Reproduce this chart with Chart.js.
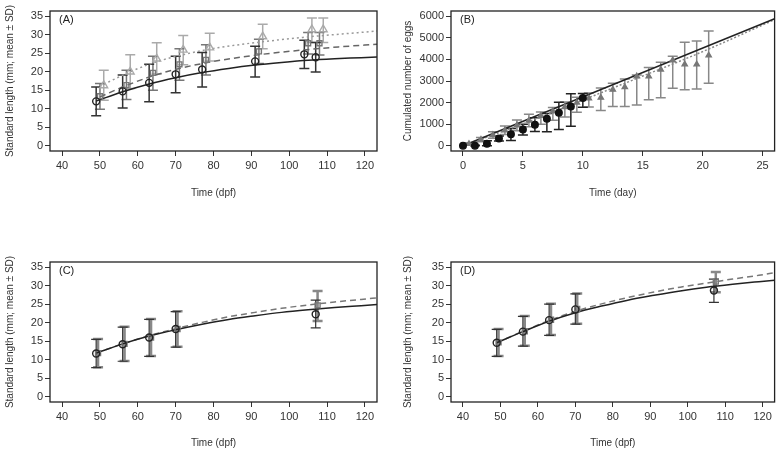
<!DOCTYPE html>
<html><head><meta charset="utf-8">
<script src="https://cdn.jsdelivr.net/npm/chart.js@4/dist/chart.umd.min.js"></script>
<style>
html,body{margin:0;padding:0;background:#fff;}
body{width:780px;height:454px;position:relative;overflow:hidden;}
.p{position:absolute;}
</style>
</head><body>
<div class="p" style="left:0;top:0;"><canvas id="cA" width="390" height="227"></canvas></div>
<div class="p" style="left:390px;top:0;"><canvas id="cB" width="390" height="227"></canvas></div>
<div class="p" style="left:0;top:251px;"><canvas id="cC" width="390" height="203"></canvas></div>
<div class="p" style="left:390px;top:251px;"><canvas id="cD" width="390" height="203"></canvas></div>
<script>
// ---------- tick labels ----------
const dpfTicks = [40, 50, 60, 70, 80, 90, 100, 110, 120];
const lengthTicks = [0, 5, 10, 15, 20, 25, 30, 35];
const dayTicks = [0, 5, 10, 15, 20, 25];
const eggTicks = [0, 1000, 2000, 3000, 4000, 5000, 6000];

// ---------- Panel A ----------
const aCircleX = [49, 56, 63, 70, 77, 91, 104, 107];
const aCircleMean = [12.0, 14.7, 17.0, 19.3, 20.6, 22.8, 24.7, 23.9];
const aCircleLow = [8.1, 10.2, 11.9, 14.3, 15.9, 18.6, 20.9, 19.9];
const aCircleHigh = [15.9, 19.1, 22.0, 24.2, 25.2, 26.9, 28.5, 27.9];
const aSquareX = [50, 57, 64, 71, 78, 92, 105, 108];
const aSquareMean = [13.4, 16.4, 19.7, 22.0, 23.2, 25.5, 27.7, 27.7];
const aSquareLow = [9.9, 12.5, 15.0, 17.7, 19.1, 22.2, 24.8, 24.5];
const aSquareHigh = [16.8, 20.4, 24.2, 26.2, 27.3, 28.8, 30.6, 30.6];
const aTriX = [51, 58, 65, 72, 79, 93, 106, 109];
const aTriMean = [16.3, 20.0, 23.5, 25.9, 26.5, 29.5, 31.4, 31.4];
const aTriLow = [12.3, 15.5, 19.4, 21.9, 22.9, 26.2, 27.9, 27.9];
const aTriHigh = [20.4, 24.6, 27.8, 29.8, 30.4, 32.8, 34.5, 34.5];
const aFitSolidX = [49, 56, 63, 70, 77, 84, 91, 98, 105, 112, 119, 123.2];
const aFitSolidY = [12.1, 14.6, 16.7, 18.4, 19.8, 20.9, 21.8, 22.5, 23.1, 23.5, 23.8, 24.0];
const aFitDashX = [50, 57, 64, 71, 78, 85, 92, 99, 106, 113, 120, 123.2];
const aFitDashY = [13.2, 16.3, 18.9, 20.9, 22.4, 23.6, 24.6, 25.4, 26.1, 26.7, 27.2, 27.4];
const aFitDotX = [51, 58, 65, 72, 79, 86, 93, 100, 107, 114, 121, 123.2];
const aFitDotY = [16.6, 20.0, 22.7, 24.6, 26.1, 27.2, 28.1, 28.9, 29.6, 30.2, 30.8, 31.0];

// ---------- Panel B ----------
const bCircleDay = [0, 1, 2, 3, 4, 5, 6, 7, 8, 9, 10];
const bCircleMean = [0, 0, 90, 340, 530, 760, 980, 1250, 1530, 1820, 2210];
const bCircleLow = [0, 0, 0, 220, 250, 500, 660, 650, 760, 900, 1780];
const bCircleHigh = [0, 30, 230, 460, 800, 1000, 1300, 1500, 2020, 2410, 2420];
const bTriDay = [0.5, 1.5, 2.5, 3.5, 4.5, 5.5, 6.5, 7.5, 8.5, 9.5, 10.5, 11.5, 12.5, 13.5, 14.5, 15.5, 16.5, 17.5, 18.5, 19.5, 20.5];
const bTriMean = [90, 290, 500, 720, 950, 1170, 1390, 1600, 1800, 2000, 2200, 2230, 2600, 2720, 3220, 3220, 3530, 3960, 3770, 3770, 4190];
const bTriLow = [40, 190, 350, 520, 700, 880, 1000, 1180, 1330, 1550, 1800, 1640, 1820, 1820, 1890, 2130, 2230, 2660, 2600, 2630, 2900];
const bTriHigh = [140, 390, 650, 920, 1200, 1460, 1560, 1770, 2030, 2250, 2450, 2680, 2900, 3090, 3280, 3620, 3870, 4140, 4790, 4850, 5320];
const bFitSolidDay = [0, 26];
const bFitSolidY = [0, 5880];
const bFitDotDay = [0, 5, 10, 15, 20, 26];
const bFitDotY = [0, 1020, 2120, 3230, 4360, 5840];

// ---------- Panel C ----------
const cCircleX = [49, 56, 63, 70, 107];
const cCircleMean = [11.7, 14.2, 16.0, 18.3, 22.3];
const cCircleLow = [7.9, 9.6, 10.9, 13.4, 18.6];
const cCircleHigh = [15.5, 18.8, 20.9, 23.0, 26.1];
const cSquareX = [49.5, 56.5, 63.5, 70.5, 107.5];
const cSquareMean = [11.8, 14.3, 16.0, 18.3, 24.7];
const cSquareLow = [8.0, 9.7, 11.0, 13.5, 20.5];
const cSquareHigh = [15.6, 18.9, 21.0, 23.1, 28.6];
const cFitX = [49, 56, 63, 70, 77, 84, 91, 98, 105, 112, 119, 123.2];
const cFitSolidY = [11.8, 14.3, 16.4, 18.1, 19.6, 20.9, 21.9, 22.8, 23.5, 24.1, 24.6, 24.9];
const cFitDashY = [11.8, 14.3, 16.5, 18.4, 20.1, 21.6, 22.8, 23.9, 24.8, 25.6, 26.3, 26.7];

// ---------- Panel D ----------
const dCircleX = [49, 56, 63, 70, 107];
const dCircleMean = [14.6, 17.6, 20.7, 23.6, 28.7];
const dCircleLow = [10.9, 13.7, 16.6, 19.6, 25.5];
const dCircleHigh = [18.2, 21.7, 25.0, 27.8, 31.8];
const dSquareX = [49.5, 56.5, 63.5, 70.5, 107.5];
const dSquareMean = [14.7, 17.7, 20.8, 23.7, 31.1];
const dSquareLow = [11.0, 13.8, 16.7, 19.7, 28.2];
const dSquareHigh = [18.3, 21.8, 25.1, 27.9, 33.7];
const dFitX = [49, 56, 63, 70, 77, 84, 91, 98, 105, 112, 119, 123.2];
const dFitSolidY = [14.6, 17.6, 20.4, 22.7, 24.5, 26.1, 27.4, 28.6, 29.6, 30.4, 31.1, 31.5];
const dFitDashY = [14.6, 17.7, 20.6, 23.1, 25.1, 26.8, 28.3, 29.6, 30.7, 31.8, 32.8, 33.5];

// ---------- helpers ----------
const FONT = '"Liberation Sans", Arial, Helvetica, sans-serif';
const pts = (xs, ys) => xs.map((x, i) => ({x: x, y: ys[i]}));

function lineDS(xs, ys, color, dash, width) {
  return {data: pts(xs, ys), showLine: true, pointRadius: 0, borderColor: color,
    borderWidth: width || 1.5, borderDash: dash || [], cubicInterpolationMode: 'monotone', fill: false};
}
function pointDS(xs, ys, style, color, radius, fillColor) {
  return {data: pts(xs, ys), showLine: false, pointStyle: style, pointRadius: radius,
    pointBorderColor: color, pointBackgroundColor: fillColor || 'rgba(0,0,0,0)',
    pointBorderWidth: 1.4, borderColor: color, backgroundColor: fillColor || 'rgba(0,0,0,0)'};
}

function panel(id, o) {
  const errPlugin = {
    id: 'err' + id,
    beforeDatasetsDraw(chart) {
      const ctx = chart.ctx, xs = chart.scales.x, ys = chart.scales.y, a = chart.chartArea;
      ctx.save();
      ctx.beginPath(); ctx.rect(a.left, a.top, a.right - a.left, a.bottom - a.top); ctx.clip();
      o.bars.forEach(b => {
        ctx.strokeStyle = b.color; ctx.lineWidth = b.width; ctx.lineCap = 'butt';
        b.x.forEach((xv, i) => {
          const px = xs.getPixelForValue(xv);
          const pl = ys.getPixelForValue(b.lo[i]);
          const ph = ys.getPixelForValue(b.hi[i]);
          if (Math.abs(pl - ph) < 0.5) return;
          ctx.beginPath();
          ctx.moveTo(px, pl); ctx.lineTo(px, ph);
          ctx.moveTo(px - b.cap, pl); ctx.lineTo(px + b.cap, pl);
          ctx.moveTo(px - b.cap, ph); ctx.lineTo(px + b.cap, ph);
          ctx.stroke();
        });
      });
      ctx.restore();
    }
  };
  const framePlugin = {
    id: 'frame' + id,
    afterDraw(chart) {
      const a = chart.chartArea, c = chart.ctx;
      c.save();
      c.strokeStyle = '#222'; c.lineWidth = 1.3;
      c.strokeRect(a.left, a.top, a.right - a.left, a.bottom - a.top);
      c.fillStyle = '#222'; c.font = '11px ' + FONT;
      c.textBaseline = 'middle'; c.textAlign = 'left';
      c.fillText(o.label, a.left + 9, a.top + 9);
      c.restore();
    }
  };
  const tickGrid = {drawOnChartArea: false, drawTicks: true, tickLength: 5, color: '#333', lineWidth: 1};
  new Chart(document.getElementById(id), {
    type: 'scatter',
    data: {datasets: o.datasets},
    options: {
      responsive: false, animation: false, events: [],
      layout: {padding: {left: 0, top: o.padTop, right: o.padRight, bottom: 0}},
      plugins: {legend: {display: false}, tooltip: {enabled: false}},
      scales: {
        x: {
          type: 'linear', min: o.xMin, max: o.xMax,
          afterBuildTicks: s => { s.ticks = o.xTicks.map(v => ({value: v})); },
          afterFit: s => { s.height = o.xAxisH; },
          grid: tickGrid, border: {display: false},
          ticks: {color: '#333', font: {family: FONT, size: 11}, padding: 3, maxRotation: 0, autoSkip: false,
            callback: v => String(v)},
          title: {display: true, text: o.xTitle, color: '#333', font: {family: FONT, size: 10},
            padding: {top: 0, bottom: o.xTitlePad}}
        },
        y: {
          type: 'linear', min: o.yMin, max: o.yMax,
          afterBuildTicks: s => { s.ticks = o.yTicks.map(v => ({value: v})); },
          afterFit: s => { s.width = o.yAxisW; },
          grid: tickGrid, border: {display: false},
          ticks: {color: '#333', font: {family: FONT, size: 11}, padding: 2, autoSkip: false,
            callback: v => String(v)},
          title: {display: true, text: o.yTitle, color: '#333', font: {family: FONT, size: 10},
            padding: {top: o.yTitlePad, bottom: 0}}
        }
      }
    },
    plugins: [errPlugin, framePlugin]
  });
}

const lenTitle = 'Standard length (mm; mean \u00b1 SD)';

panel('cA', {
  label: '(A)', padTop: 11, padRight: 13, xAxisH: 76, yAxisW: 50, xTitlePad: 28, yTitlePad: 4,
  xMin: 36.8, xMax: 123.2, yMin: -1.4, yMax: 36.4, xTicks: dpfTicks, yTicks: lengthTicks,
  xTitle: 'Time (dpf)', yTitle: lenTitle,
  bars: [
    {x: aTriX, lo: aTriLow, hi: aTriHigh, color: '#aaa', width: 1.5, cap: 5},
    {x: aSquareX, lo: aSquareLow, hi: aSquareHigh, color: '#777', width: 1.5, cap: 5},
    {x: aCircleX, lo: aCircleLow, hi: aCircleHigh, color: '#333', width: 1.5, cap: 5}
  ],
  datasets: [
    pointDS(aCircleX, aCircleMean, 'circle', '#222', 3.5),
    pointDS(aSquareX, aSquareMean, 'rect', '#777', 3.5),
    pointDS(aTriX, aTriMean, 'triangle', '#aaa', 4.5),
    lineDS(aFitSolidX, aFitSolidY, '#222', [], 1.5),
    lineDS(aFitDashX, aFitDashY, '#666', [6, 4], 1.5),
    lineDS(aFitDotX, aFitDotY, '#999', [2, 3], 1.5)
  ]
});

panel('cB', {
  label: '(B)', padTop: 11, padRight: 3, xAxisH: 76, yAxisW: 61, xTitlePad: 28, yTitlePad: 12,
  xMin: -1, xMax: 26, yMin: -240, yMax: 6240, xTicks: dayTicks, yTicks: eggTicks,
  xTitle: 'Time (day)', yTitle: 'Cumulated number of eggs',
  bars: [
    {x: bTriDay, lo: bTriLow, hi: bTriHigh, color: '#888', width: 1.5, cap: 5},
    {x: bCircleDay, lo: bCircleLow, hi: bCircleHigh, color: '#222', width: 1.5, cap: 5}
  ],
  datasets: [
    pointDS(bCircleDay, bCircleMean, 'circle', '#111', 3.3, '#111'),
    pointDS(bTriDay, bTriMean, 'triangle', '#777', 3, '#777'),
    lineDS(bFitSolidDay, bFitSolidY, '#222', [], 1.5),
    lineDS(bFitDotDay, bFitDotY, '#888', [2, 2], 1.5)
  ]
});

panel('cC', {
  label: '(C)', padTop: 11, padRight: 13, xAxisH: 52, yAxisW: 50, xTitlePad: 5, yTitlePad: 4,
  xMin: 36.8, xMax: 123.2, yMin: -1.4, yMax: 36.4, xTicks: dpfTicks, yTicks: lengthTicks,
  xTitle: 'Time (dpf)', yTitle: lenTitle,
  bars: [
    {x: cSquareX, lo: cSquareLow, hi: cSquareHigh, color: '#888', width: 2.5, cap: 5},
    {x: cCircleX, lo: cCircleLow, hi: cCircleHigh, color: '#333', width: 1.2, cap: 5}
  ],
  datasets: [
    pointDS(cCircleX, cCircleMean, 'circle', '#222', 3.5),
    pointDS(cSquareX, cSquareMean, 'rect', '#777', 3.5),
    lineDS(cFitX, cFitSolidY, '#222', [], 1.5),
    lineDS(cFitX, cFitDashY, '#777', [6, 4], 1.5)
  ]
});

panel('cD', {
  label: '(D)', padTop: 11, padRight: 3, xAxisH: 52, yAxisW: 61, xTitlePad: 5, yTitlePad: 12,
  xMin: 36.8, xMax: 123.2, yMin: -1.4, yMax: 36.4, xTicks: dpfTicks, yTicks: lengthTicks,
  xTitle: 'Time (dpf)', yTitle: lenTitle,
  bars: [
    {x: dSquareX, lo: dSquareLow, hi: dSquareHigh, color: '#888', width: 2.5, cap: 5},
    {x: dCircleX, lo: dCircleLow, hi: dCircleHigh, color: '#333', width: 1.2, cap: 5}
  ],
  datasets: [
    pointDS(dCircleX, dCircleMean, 'circle', '#222', 3.5),
    pointDS(dSquareX, dSquareMean, 'rect', '#777', 3.5),
    lineDS(dFitX, dFitSolidY, '#222', [], 1.5),
    lineDS(dFitX, dFitDashY, '#777', [6, 4], 1.5)
  ]
});
</script>
</body></html>
